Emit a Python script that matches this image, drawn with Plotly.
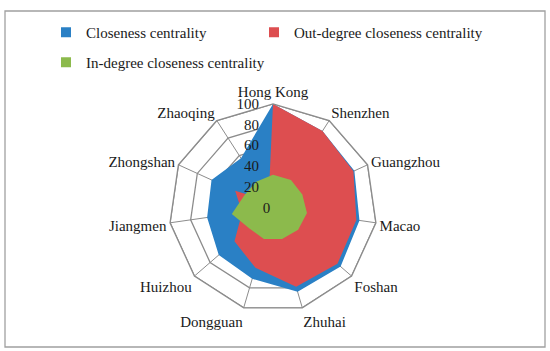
import plotly.graph_objects as go

cities = ["Hong Kong", "Shenzhen", "Guangzhou", "Macao", "Foshan", "Zhuhai",
          "Dongguan", "Huizhou", "Jiangmen", "Zhongshan", "Zhaoqing"]

closeness = [100, 88, 86, 84, 86, 84, 71, 69, 64, 65, 57]
out_degree = [100, 88, 85, 81, 82, 79, 60, 49, 30, 40, 8]
in_degree = [32, 32, 31, 33, 32, 31, 31, 30, 40, 30, 30]

ring_levels = [20, 40, 60, 80, 100]
tick_vals = [0, 20, 40, 60, 80, 100]

series = [
    ("Closeness centrality", closeness, "#2a80c5"),
    ("Out-degree closeness centrality", out_degree, "#dd4e50"),
    ("In-degree closeness centrality", in_degree, "#8cba4c"),
]

FONT = "Liberation Serif"
GRID = "#8c8c8c"
NBSP = "\u00a0"

fig = go.Figure()

# rings sit under the filled areas, like in the original
for lvl in ring_levels:
    fig.add_trace(go.Scatterpolar(
        r=[lvl] * len(cities) + [lvl],
        theta=cities + cities[:1],
        mode="lines",
        line=dict(color=GRID, width=1.3),
        showlegend=False,
        hoverinfo="skip",
    ))

for name, vals, color in series:
    fig.add_trace(go.Scatterpolar(
        r=vals + vals[:1],
        theta=cities + cities[:1],
        mode="lines",
        fill="toself",
        fillcolor=color,
        line=dict(width=0, color=color),
        name=name,
        showlegend=False,
    ))

# legend-only entries with small square swatches
legend_ids = ["legend", "legend3", "legend2"]
for (name, vals, color), lg in zip(series, legend_ids):
    fig.add_trace(go.Scatterpolar(
        r=[None], theta=[cities[0]],
        mode="markers",
        marker=dict(symbol="square", size=10, color=color),
        name=name,
        legend=lg,
    ))

W, H = 550, 351
cx, cy, R = 273, 208, 104
legend_font = dict(family=FONT, size=15, color="#1a1a1a")

fig.update_layout(
    width=W, height=H,
    margin=dict(l=0, r=0, t=0, b=0),
    paper_bgcolor="white",
    plot_bgcolor="white",
    font=dict(family=FONT, size=15, color="#1a1a1a"),
    polar=dict(
        domain=dict(x=[(cx - R) / W, (cx + R) / W],
                    y=[(H - cy - R) / H, (H - cy + R) / H]),
        gridshape="linear",
        bgcolor="rgba(0,0,0,0)",
        radialaxis=dict(
            range=[0, 100],
            tickvals=tick_vals,
            # push the labels a little off the spoke (except the centre 0)
            ticktext=[str(v) + ("" if v == 0 else NBSP * 3) for v in tick_vals],
            angle=90,
            tickangle=90,
            side="counterclockwise",
            showgrid=False,
            showline=False,
            ticks="",
            tickfont=dict(family=FONT, size=15, color="#1a1a1a"),
        ),
        angularaxis=dict(
            direction="clockwise",
            rotation=90,
            showline=True,
            linecolor=GRID,
            linewidth=1.3,
            gridcolor=GRID,
            gridwidth=1.3,
            ticks="",
            tickfont=dict(family=FONT, size=15, color="#1a1a1a"),
        ),
    ),
    legend=dict(x=46 / W, y=1 - 16 / H, xanchor="left", yanchor="top",
                font=legend_font, itemwidth=30),
    legend3=dict(x=254 / W, y=1 - 16 / H, xanchor="left", yanchor="top",
                 font=legend_font, itemwidth=30),
    legend2=dict(x=46 / W, y=1 - 46 / H, xanchor="left", yanchor="top",
                 font=legend_font, itemwidth=30),
    shapes=[dict(type="rect", xref="paper", yref="paper",
                 x0=5 / W, x1=545 / W, y0=1 - 347 / H, y1=1 - 11 / H,
                 line=dict(color="#a0a0a0", width=1.3))],
)

fig.write_html("out.html", config={"displayModeBar": False},
               post_script="document.body.style.margin='0';")
